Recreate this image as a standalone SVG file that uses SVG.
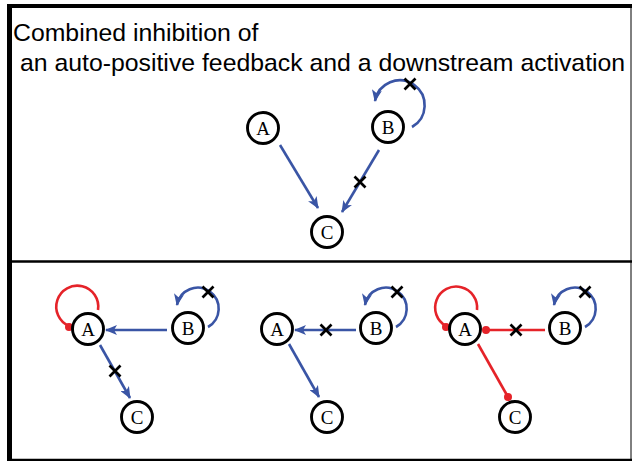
<svg xmlns="http://www.w3.org/2000/svg" xmlns:xlink="http://www.w3.org/1999/xlink" width="632" height="461" viewBox="0 0 632 461">
  <style>
    .node circle { fill: #fff; stroke: #000; stroke-width: 2.9; }
    .node text { font-family: "Liberation Serif", "Times New Roman", serif; font-size: 19px; text-anchor: middle; fill: #000; }
    .act { fill: none; stroke: #3a55a5; stroke-width: 2.6; marker-end: url(#arrow); }
    .inh { fill: none; stroke: #e52329; stroke-width: 2.6; }
    .dot { fill: #e52329; }
    .title { font-family: "Liberation Sans", Arial, sans-serif; font-size: 24.8px; fill: #000; }
    .frame { stroke: #000; fill: none; }
  </style>
  <defs>
    <marker id="arrow" viewBox="0 0 12 10" refX="11" refY="5" markerWidth="12" markerHeight="10" markerUnits="userSpaceOnUse" orient="auto">
      <path d="M0,0 L12,5 L0,10 L3,5 z" fill="#3a55a5"/>
    </marker>
    <path id="x" d="M-5.5,-5.5 L5.5,5.5 M5.5,-5.5 L-5.5,5.5" stroke="#000" stroke-width="2.7" fill="none"/>
  </defs>

  <rect width="632" height="461" fill="#fff"/>

  <g id="frame">
    <line class="frame" x1="7" y1="6" x2="632" y2="6" stroke-width="4"/>
    <line class="frame" x1="9.5" y1="4" x2="9.5" y2="461" stroke-width="5"/>
    <line class="frame" x1="631" y1="6" x2="631" y2="461" stroke-width="1" stroke="#888"/>
    <line class="frame" x1="12" y1="261.5" x2="632" y2="261.5" stroke-width="2.5"/>
    <line class="frame" x1="12" y1="460" x2="632" y2="460" stroke-width="2.5"/>
  </g>

  <g id="title">
    <text class="title" x="13" y="41">Combined inhibition of</text>
    <text class="title" x="20" y="71">an auto-positive feedback and a downstream activation</text>
  </g>

  <g id="connectors">
    <!-- top panel -->
    <line class="act" x1="280" y1="145" x2="318" y2="208"/>
    <line class="act" x1="379" y1="150" x2="342" y2="212"/>
    <path class="act" d="M412,127 A25,25 0 1 0 375,101"/>
    <use xlink:href="#x" x="360" y="182"/>
    <use xlink:href="#x" x="410" y="84"/>

    <!-- bottom panel 1 -->
    <path class="inh" d="M98,310 A21,21 0 1 0 69,326"/>
    <circle class="dot" cx="69" cy="327" r="4"/>
    <line class="act" x1="167" y1="330" x2="106" y2="330"/>
    <path class="act" d="M208,327 A21,21 0 1 0 177,305"/>
    <use xlink:href="#x" x="208" y="292"/>
    <line class="act" x1="100" y1="345" x2="130" y2="398"/>
    <use xlink:href="#x" x="115" y="371"/>

    <!-- bottom panel 2 -->
    <line class="act" x1="356" y1="330" x2="295" y2="330"/>
    <use xlink:href="#x" x="326" y="330"/>
    <path class="act" d="M396,327 A21,21 0 1 0 365,305"/>
    <use xlink:href="#x" x="397" y="292"/>
    <line class="act" x1="289" y1="344" x2="319" y2="397"/>

    <!-- bottom panel 3 -->
    <path class="inh" d="M477,310 A21,21 0 1 0 446,326"/>
    <circle class="dot" cx="446" cy="327" r="4"/>
    <line class="inh" x1="545" y1="330" x2="486" y2="330"/>
    <circle class="dot" cx="486" cy="330" r="4"/>
    <use xlink:href="#x" x="516" y="330"/>
    <line class="inh" x1="478" y1="344" x2="508" y2="397"/>
    <circle class="dot" cx="508" cy="397" r="4"/>
    <path class="act" d="M585,327 A21,21 0 1 0 554,305"/>
    <use xlink:href="#x" x="585" y="292"/>
  </g>

  <!-- top panel nodes -->
  <g id="top-A" class="node"><circle cx="263" cy="128" r="15.5"/><text x="263" y="134.5">A</text></g>
  <g id="top-B" class="node"><circle cx="388" cy="127" r="15.5"/><text x="388" y="133.5">B</text></g>
  <g id="top-C" class="node"><circle cx="327" cy="232" r="15.5"/><text x="327" y="238.5">C</text></g>

  <!-- panel 1 nodes -->
  <g id="p1-A" class="node"><circle cx="88" cy="329" r="15.5"/><text x="88" y="335.5">A</text></g>
  <g id="p1-B" class="node"><circle cx="188" cy="328" r="15.5"/><text x="188" y="334.5">B</text></g>
  <g id="p1-C" class="node"><circle cx="137" cy="417" r="15.5"/><text x="137" y="423.5">C</text></g>

  <!-- panel 2 nodes -->
  <g id="p2-A" class="node"><circle cx="277" cy="329" r="15.5"/><text x="277" y="335.5">A</text></g>
  <g id="p2-B" class="node"><circle cx="376" cy="328" r="15.5"/><text x="376" y="334.5">B</text></g>
  <g id="p2-C" class="node"><circle cx="327" cy="417" r="15.5"/><text x="327" y="423.5">C</text></g>

  <!-- panel 3 nodes -->
  <g id="p3-A" class="node"><circle cx="465" cy="329" r="15.5"/><text x="465" y="335.5">A</text></g>
  <g id="p3-B" class="node"><circle cx="565" cy="328" r="15.5"/><text x="565" y="334.5">B</text></g>
  <g id="p3-C" class="node"><circle cx="515" cy="417" r="15.5"/><text x="515" y="423.5">C</text></g>
</svg>
